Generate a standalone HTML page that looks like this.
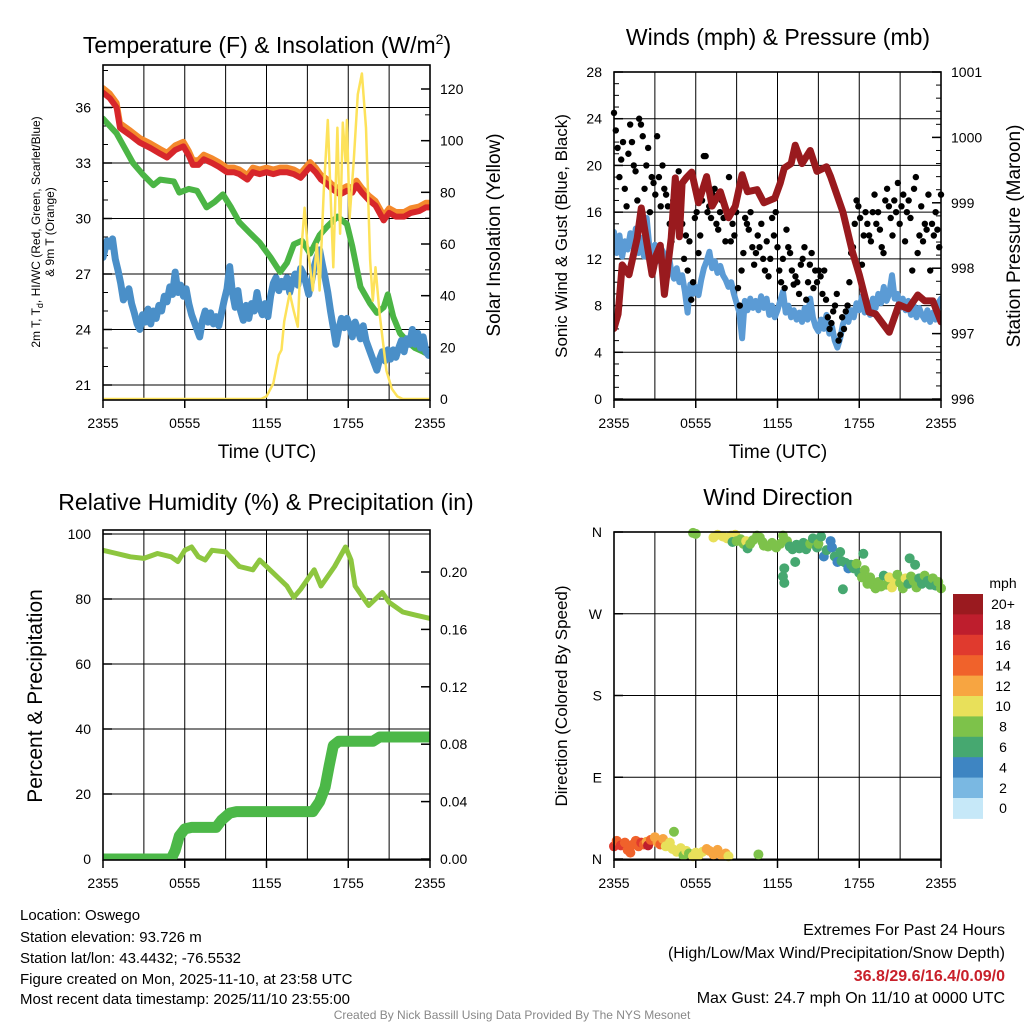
<!DOCTYPE html>
<html><head><meta charset="utf-8">
<style>
html,body{margin:0;padding:0;background:#fff;}
svg{display:block;font-family:"Liberation Sans",Arial,sans-serif;}
</style></head>
<body>
<svg id="chart" width="1024" height="1024" viewBox="0 0 1024 1024" xmlns="http://www.w3.org/2000/svg">
<rect width="1024" height="1024" fill="#fff"/>
<!-- titles -->
<text x="267" y="53" font-size="23" text-anchor="middle">Temperature (F) &amp; Insolation (W/m<tspan font-size="14" dy="-9">2</tspan><tspan dy="9">)</tspan></text>
<text x="778" y="45" font-size="23" text-anchor="middle">Winds (mph) &amp; Pressure (mb)</text>
<text x="266" y="510" font-size="23" text-anchor="middle">Relative Humidity (%) &amp; Precipitation (in)</text>
<text x="778" y="505" font-size="23" text-anchor="middle">Wind Direction</text>
<!-- axis titles -->
<text x="267" y="458" font-size="19" text-anchor="middle">Time (UTC)</text>
<text x="778" y="458" font-size="19" text-anchor="middle">Time (UTC)</text>
<text transform="translate(40,232) rotate(-90)" font-size="12" text-anchor="middle">2m T, T<tspan font-size="9" dy="3">d</tspan><tspan dy="-3">, HI/WC (Red, Green, Scarlet/Blue)</tspan></text>
<text transform="translate(54,232) rotate(-90)" font-size="12" text-anchor="middle">&amp; 9m T (Orange)</text>
<text transform="translate(500,235) rotate(-90)" font-size="19" text-anchor="middle">Solar Insolation (Yellow)</text>
<text transform="translate(567,236) rotate(-90)" font-size="17" text-anchor="middle">Sonic Wind &amp; Gust (Blue, Black)</text>
<text transform="translate(1020,236) rotate(-90)" font-size="19" text-anchor="middle">Station Pressure (Maroon)</text>
<text transform="translate(42,696) rotate(-90)" font-size="21" text-anchor="middle">Percent &amp; Precipitation</text>
<text transform="translate(567,696) rotate(-90)" font-size="17" text-anchor="middle">Direction (Colored By Speed)</text>
<!-- footer -->
<g font-size="15">
<text x="20" y="920">Location: Oswego</text>
<text x="20" y="942">Station elevation: 93.726 m</text>
<text x="20" y="963">Station lat/lon: 43.4432; -76.5532</text>
<text x="20" y="984">Figure created on Mon, 2025-11-10, at 23:58 UTC</text>
<text x="20" y="1004">Most recent data timestamp: 2025/11/10 23:55:00</text>
</g>
<g font-size="16" text-anchor="end">
<text x="1005" y="935">Extremes For Past 24 Hours</text>
<text x="1005" y="958">(High/Low/Max Wind/Precipitation/Snow Depth)</text>
<text x="1005" y="981" fill="#c8202a" font-weight="bold">36.8/29.6/16.4/0.09/0</text>
<text x="1005" y="1003">Max Gust: 24.7 mph On 11/10 at 0000 UTC</text>
</g>
<text x="512" y="1019" font-size="12" fill="#888" text-anchor="middle">Created By Nick Bassill Using Data Provided By The NYS Mesonet</text>
<g id="plots"></g>
</svg>
<script>
// ---------- data ----------
var timeTickLabels = ["2355","0555","1155","1755","2355"];
var tempTicks = [21,24,27,30,33,36];
var insolTicks = [0,20,40,60,80,100,120];
var windTicks = [0,4,8,12,16,20,24,28];
var presTicks = [996,997,998,999,1000,1001];
var rhTicks = [0,20,40,60,80,100];
var precipTicks = [0,0.04,0.08,0.12,0.16,0.20];
var precipTickLabels = ["0.00","0.04","0.08","0.12","0.16","0.20"];
var dirTicks = [0,90,180,270,360];
var dirTickLabels = ["N","E","S","W","N"];
var speedBins = [0,2,4,6,8,10,12,14,16,18,20];
var speedLabels = ["0","2","4","6","8","10","12","14","16","18","20+"];
var speedColors = ["#c6e8f8","#7ab8e2","#3e85c2","#46a870","#7dc24a","#e8e05a","#f7a541","#f0622b","#e03a2e","#be1e2d","#9a1a1f"];

var tempRed = [[0,36.8],[0.5,36.5],[1,36],[1.25,34.9],[2,34.5],[2.7,34.1],[3.5,33.8],[4.2,33.5],[4.7,33.3],[5.3,33.7],[5.9,33.9],[6.3,33.4],[6.6,32.9],[7.0,32.9],[7.4,33.2],[8.0,33.0],[8.5,32.8],[9.1,32.5],[9.6,32.5],[10.0,32.4],[10.6,32.1],[11.0,32.5],[11.5,32.4],[12.0,32.5],[12.5,32.4],[13.0,32.5],[13.5,32.5],[14.0,32.4],[14.5,32.2],[15.2,32.8],[15.6,32.5],[16.0,32.1],[16.4,31.9],[16.8,31.6],[17.4,31.3],[17.9,31.5],[18.3,31.4],[18.6,31.8],[19.0,31.4],[19.5,31.0],[20.0,30.7],[20.6,29.9],[21.0,30.3],[21.5,30.1],[22.1,30.1],[22.6,30.3],[23.2,30.4],[23.7,30.6],[24,30.6]];
var tempOrangeOffset = 0.25;
var tempGreen = [[0,35.4],[0.5,35.0],[1,34.6],[1.6,33.8],[2.2,33.0],[2.9,32.4],[3.7,31.8],[4.2,32.1],[5.2,32.0],[5.6,31.4],[6.3,31.6],[6.9,31.5],[7.6,30.6],[8.2,30.9],[8.8,31.3],[9.4,30.6],[10,29.8],[10.8,29.2],[11.5,28.7],[12.3,27.9],[13,27.1],[13.5,27.6],[14,28.6],[14.6,28.8],[15.2,28.1],[15.9,29.1],[16.5,29.6],[17.2,30.1],[17.9,29.7],[18.3,28.5],[18.9,26.3],[19.6,25.4],[20.1,24.9],[20.6,25.2],[20.9,25.9],[21.3,24.7],[21.8,23.8],[22.4,23.3],[22.9,23.0],[23.5,22.8],[24,22.6]];
var tempBlue = [[0,27.9],[0.3,28.8],[0.5,28.5],[0.7,28.9],[0.9,27.8],[1.1,27.2],[1.3,26.5],[1.5,25.6],[1.7,25.9],[1.9,26.2],[2.1,25.4],[2.3,24.9],[2.5,24.3],[2.7,24.0],[2.9,24.8],[3.1,24.4],[3.3,25.1],[3.5,24.3],[3.7,25.0],[3.9,24.6],[4.1,25.3],[4.3,25.0],[4.5,25.8],[4.7,25.5],[4.9,26.3],[5.1,25.9],[5.3,27.1],[5.5,26.0],[5.7,26.4],[5.9,25.8],[6.1,26.2],[6.3,25.4],[6.5,24.8],[6.7,24.4],[6.9,24.0],[7.1,23.6],[7.3,24.5],[7.5,25.0],[7.7,24.4],[7.9,24.9],[8.1,24.3],[8.3,24.7],[8.5,24.2],[8.7,24.9],[8.9,25.6],[9.1,26.2],[9.3,27.4],[9.5,26.0],[9.7,25.2],[9.9,26.1],[10.1,25.0],[10.3,24.5],[10.5,25.3],[10.7,24.6],[10.9,25.4],[11.1,25.0],[11.3,26.0],[11.5,25.2],[11.7,24.8],[11.9,25.4],[12.1,24.7],[12.3,25.8],[12.5,26.5],[12.7,26.8],[12.9,26.1],[13.1,26.6],[13.3,26.3],[13.5,26.8],[13.7,26.0],[13.9,26.6],[14.1,27.0],[14.3,26.4],[14.5,27.3],[14.7,27.0],[14.9,26.5],[15.1,25.9],[15.3,26.6],[15.5,27.4],[15.7,27.9],[15.9,28.3],[16.1,27.5],[16.3,26.8],[16.5,26.0],[16.7,25.0],[16.9,24.1],[17.1,23.2],[17.3,24.0],[17.5,24.6],[17.7,24.1],[17.9,24.6],[18.1,24.2],[18.3,23.6],[18.5,24.4],[18.7,24.0],[18.9,23.5],[19.1,24.2],[19.3,23.4],[19.5,23.0],[19.7,22.6],[19.9,22.2],[20.1,21.8],[20.3,22.4],[20.5,22.8],[20.7,22.3],[20.9,22.9],[21.1,22.4],[21.3,22.9],[21.5,22.5],[21.7,23.0],[21.9,23.4],[22.1,22.8],[22.3,23.5],[22.5,23.2],[22.7,24.0],[22.9,23.2],[23.1,23.8],[23.3,23.0],[23.5,23.6],[23.7,22.8],[23.9,22.6],[24,22.8]];
var insolation = [[0,0],[11.6,0],[12.0,1],[12.5,6],[12.9,17],[13.1,19],[13.3,30],[13.7,41],[14.0,34],[14.3,28],[14.5,54],[14.8,74],[15.0,60],[15.4,42],[15.7,60],[15.9,42],[16.2,80],[16.5,108],[16.9,51],[17.2,105],[17.4,64],[17.6,107],[17.8,92],[17.9,108],[18.1,70],[18.4,92],[18.7,118],[19.0,126],[19.3,105],[19.6,54],[19.8,38],[20.0,51],[20.3,33],[20.8,11],[21.2,4],[21.6,1],[22,0],[24,0]];

var windSpeed = [[0,14.3],[0.2,12.5],[0.4,14],[0.6,12.2],[0.8,13.5],[1.0,12.8],[1.2,14.2],[1.4,13],[1.6,14.6],[1.8,12.5],[2.0,13.8],[2.2,12.2],[2.4,15.5],[2.6,13],[2.8,12],[3.0,13.2],[3.2,11.8],[3.4,13],[3.6,12.6],[3.8,11.2],[4.0,12.4],[4.2,11],[4.4,10.3],[4.6,11.2],[4.8,10],[5.0,10.6],[5.2,9.2],[5.4,7.4],[5.6,9.8],[5.8,9],[6.0,9.6],[6.2,8.9],[6.4,10.2],[6.6,11.2],[6.8,11.8],[7.0,12.6],[7.2,11.2],[7.4,11.8],[7.6,10.8],[7.8,11.4],[8.0,10.6],[8.2,10.2],[8.4,9.6],[8.6,10],[8.8,9],[9.0,8.2],[9.2,7.4],[9.4,5.2],[9.6,8.4],[9.8,7.6],[10.0,8.6],[10.2,7.8],[10.4,8.4],[10.6,7.6],[10.8,8.8],[11.0,7.8],[11.2,8.6],[11.4,7.2],[11.6,8],[11.8,7],[12.0,7.6],[12.2,8.4],[12.4,9.2],[12.6,7.4],[12.8,8],[13.0,7],[13.2,7.6],[13.4,6.8],[13.6,7.4],[13.8,6.6],[14.0,7.8],[14.2,6.8],[14.4,8.6],[14.6,7],[14.8,6.2],[15.0,5.8],[15.2,6.8],[15.4,6],[15.6,7.2],[15.8,5.6],[16.0,6.2],[16.2,5],[16.4,4.4],[16.6,5.2],[16.8,6.4],[17.0,7],[17.2,6.6],[17.4,7.6],[17.6,7],[17.8,8.2],[18.0,7.6],[18.2,8.8],[18.4,7.4],[18.6,8],[18.8,7.2],[19.0,8.6],[19.2,7.8],[19.4,9],[19.6,8.2],[19.8,9.6],[20.0,8.4],[20.2,9],[20.4,10.6],[20.6,8.6],[20.8,9],[21.0,7.8],[21.2,8.6],[21.4,7.6],[21.6,8.4],[21.8,7.2],[22.0,8],[22.2,7],[22.4,7.8],[22.6,7.2],[22.8,6.8],[23.0,7.6],[23.2,6.6],[23.4,7.4],[23.6,6.8],[23.8,8.2],[24,8.6]];
var windGust = [24.5,23,21.5,19,20.5,22,18,16.5,21,23.5,22,20,19.5,17,24,23.5,22.5,18,20,21.5,16,19,18.5,17.5,
22.5,19,16.5,20,18,17.5,16.5,15,13.5,17,16,14.8,19.5,18,
15,12,14,11,13.5,8.5,10,15.5,16,12.5,14,17,20.8,20.8,16,
16.5,15.5,17.5,18,15,14.5,16,17,15.5,13.5,16,19,
13.5,15,14,16,9.5,8,11,12.5,15.5,15,14.5,16,13,11.5,12.5,
14,13,15,12,11,13.5,10.5,12,15.5,14,16,13,11,10,12,9.5,14.5,
13,12.5,11,9.8,10.5,10,9,11.5,12,13,8.5,10,11.5,12.5,9.5,11,
10,11,10.5,9,11,8.5,7,6,6.5,7.5,8,9,5,5.5,7,
6,7.5,8,10,12.5,13,15,17,16.5,15.5,11.5,14,16,
15,14,13.5,16,17.5,15,16,14.5,13,12.5,17,18,16.5,15.5,
14,17,16,18.5,15,16.5,17.5,13.5,16,17,15.5,11,18,19,
12.5,14,16.5,13.5,15,14.5,17.5,11,15,14,16,14.5,13,17.5];
var pressure = [[0,997.08],[0.3,997.3],[0.6,998.05],[1.1,997.9],[1.7,998.46],[2.0,998.92],[2.4,998.4],[2.8,997.9],[3.1,998.2],[3.4,998.35],[3.7,997.6],[4.2,998.46],[4.5,999.38],[4.8,998.48],[5.0,999.3],[5.3,999.38],[5.7,999.47],[6.2,999.0],[6.8,999.4],[7.2,998.95],[7.8,999.17],[8.4,998.77],[8.9,998.95],[9.4,999.43],[9.8,999.17],[10.5,999.2],[11.0,999.0],[11.8,999.07],[12.2,999.3],[12.5,999.53],[13.0,999.6],[13.3,999.88],[13.8,999.6],[14.4,999.8],[14.9,999.48],[15.6,999.55],[15.9,999.4],[16.8,998.86],[17.5,998.25],[18.0,997.9],[18.7,997.33],[19.2,997.3],[20.2,997.02],[20.9,997.44],[21.6,997.38],[22.3,997.59],[22.8,997.5],[23.4,997.5],[24,997.18]];

var rh = [[0,95],[1,94],[2,93],[3,92.5],[4,94],[5,93],[5.5,91.5],[6,95],[6.5,96],[7,93],[7.5,92],[8,95],[9,94.5],[10,90],[11,89],[11.5,92],[12,90],[13,86],[13.5,84],[14,80.5],[14.5,83],[15,86],[15.5,89],[16,84],[17,90],[17.8,96],[18.2,92],[18.5,84],[19,81],[19.5,78],[20,80],[20.5,82],[21,79],[22,76],[23,75],[24,74]];
var precip = [[0,0],[5.0,0],[5.3,0.006],[5.6,0.016],[6.0,0.021],[6.5,0.022],[8.3,0.022],[8.7,0.027],[9.3,0.032],[9.8,0.033],[15.4,0.033],[15.9,0.04],[16.3,0.05],[16.6,0.065],[16.9,0.079],[17.3,0.082],[19.8,0.082],[20.3,0.085],[24,0.085]];

var windDir = [[5.8,359,8],[6.0,358,8],[7.3,354,10],[7.6,357,10],[8.0,355,10],[8.3,353,10],[8.6,356,10],[8.9,357,9],[8.7,349,6],[9.0,350,8],[9.3,352,8],[9.5,347,8],[9.7,350,10],[9.8,342,6],[10.0,347,8],[10.2,351,8],[10.5,356,8],[10.7,354,8],[10.9,349,8],[11.0,345,8],[11.3,344,8],[11.6,348,7],[11.9,343,8],[12.2,347,8],[12.4,356,8],[12.7,350,8],[12.9,344,6],[13.1,341,6],[13.4,346,6],[13.6,342,6],[13.9,348,6],[14.1,341,6],[14.4,347,7],[14.6,353,6],[14.9,343,6],[15.0,347,8],[15.2,355,6],[15.4,333,4],[15.6,340,6],[15.9,350,4],[16.0,343,4],[16.2,333,6],[16.4,327,4],[16.6,338,6],[16.7,328,6],[17.0,326,6],[17.2,320,4],[17.4,324,6],[17.6,320,6],[17.8,325,8],[18.0,315,6],[18.2,310,8],[18.4,318,8],[18.6,303,8],[18.8,310,8],[19.0,302,8],[19.2,298,7],[19.4,305,8],[19.6,300,8],[19.8,312,6],[20.0,302,8],[20.2,310,10],[20.4,299,10],[20.6,304,10],[20.8,313,8],[21.0,304,8],[21.2,298,8],[21.4,309,10],[21.6,303,6],[21.8,311,8],[22.0,306,8],[22.2,299,8],[22.4,309,6],[22.6,303,6],[22.8,312,8],[23.0,306,6],[23.2,302,6],[23.4,309,8],[23.6,301,6],[23.8,305,8],[24.0,298,8],
[12.5,320,6],[12.4,311,6],[12.5,304,6],[13.3,327,6],[18.3,336,6],[21.7,331,6],[22.1,324,6],[16.8,297,6],
[0.0,14,16],[0.2,20,14],[0.5,15,16],[0.8,18,14],[1.0,10,14],[1.2,7,14],[1.4,16,14],[1.6,20,14],[1.8,14,14],[2.0,18,16],[2.2,16,14],[2.4,19,12],[2.5,15,18],[2.7,21,14],[3.0,24,12],[3.2,18,12],[3.4,16,14],[3.6,22,12],[3.8,14,10],[4.1,18,10],[4.4,30,8],[4.3,11,10],[4.6,8,10],[4.9,12,10],[5.1,4,8],[5.3,9,10],[5.5,6,8],[5.8,3,10],[6.0,7,10],[6.2,4,10],[6.5,8,10],[6.8,11,12],[7.0,9,12],[7.3,5,12],[7.6,10,12],[7.9,4,12],[8.2,6,12],[8.4,3,10],[10.6,5,8]];

// ---------- helpers ----------
var NS = "http://www.w3.org/2000/svg";
var root = document.getElementById("plots");
function el(tag, attrs, parent){
  var e = document.createElementNS(NS, tag);
  for (var k in attrs) e.setAttribute(k, attrs[k]);
  (parent||root).appendChild(e);
  return e;
}
function lin(d0,d1,r0,r1){ return function(v){ return r0 + (v-d0)/(d1-d0)*(r1-r0); }; }

function panel(name, x0, x1, y0, y1){
  var g = el("g", {});
  
  
  var cp = el("clipPath", {id: "clip-"+name}, g);
  el("rect", {x:x0, y:y0, width:x1-x0, height:y1-y0}, cp);
  return {g:g, x0:x0, x1:x1, y0:y0, y1:y1, x: lin(0,24,x0,x1), clip:"url(#clip-"+name+")"};
}
function vgrid(p){
  for (var i=1;i<8;i++){
    var xx = p.x(i*3);
    var ln = el("line",{x1:xx,x2:xx,y1:p.y0,y2:p.y1,stroke:"#000","stroke-width":1}, p.g);
    
    
  }
  for (var j=0;j<timeTickLabels.length;j++){
    var xt = p.x(j*6);
    var tk = el("line",{x1:xt,x2:xt,y1:p.y1,y2:p.y1+8,stroke:"#000","stroke-width":1.5}, p.g);
    
    
    var t = el("text",{x:xt,y:p.y1+28,"font-size":14,"text-anchor":"middle"}, p.g);
    
    
    t.textContent = timeTickLabels[j];
  }
}
function hgrid(p, ticks, sy, labels, side, grid, minorStep){
  for (var i=0;i<ticks.length;i++){
    var yy = sy(ticks[i]);
    if (grid){
      var ln = el("line",{x1:p.x0,x2:p.x1,y1:yy,y2:yy,stroke:"#000","stroke-width":1}, p.g);
      
      
    }
    var xe = side=="left"? p.x0 : p.x1;
    var tk = el("line",{x1:xe,x2:side=="left"?xe+9:xe-9,y1:yy,y2:yy,stroke:"#000","stroke-width":1.5}, p.g);
    
    
    var t = el("text",{x:side=="left"?p.x0-12:p.x1+10,y:yy+5,"font-size":14,"text-anchor":side=="left"?"end":"start"}, p.g);
    
    
    t.textContent = labels ? labels[i] : String(ticks[i]);
  }
  if (minorStep){
    var lo = ticks[0], hi = ticks[ticks.length-1]+ (ticks[1]-ticks[0]);
    for (var v=lo; v<=hi+1e-9; v+=minorStep){
      var ym = sy(v);
      if (ym < p.y0-0.5 || ym > p.y1+0.5) continue;
      var xe2 = side=="left"? p.x0 : p.x1;
      var mk = el("line",{x1:xe2,x2:side=="left"?xe2+5:xe2-5,y1:ym,y2:ym,stroke:"#000","stroke-width":1}, p.g);
      
      
    }
  }
}
function frame(p){
  var r = el("rect",{x:p.x0,y:p.y0,width:p.x1-p.x0,height:p.y1-p.y0,fill:"none",stroke:"#000","stroke-width":1.6}, p.g);
  
  
}
function line(p, data, sy, color, w, name, off){
  var d = "";
  for (var i=0;i<data.length;i++){
    d += (i?"L":"M") + p.x(data[i][0]).toFixed(1) + "," + sy(data[i][1]+(off||0)).toFixed(1);
  }
  var pa = el("path",{d:d,fill:"none",stroke:color,"stroke-width":w,"stroke-linejoin":"round","stroke-linecap":"round","clip-path":p.clip}, p.g);
  
  
}

// ---------- panel 1: temperature ----------
var p1 = panel("temperature-panel", 103, 430, 65, 400);
var yT = lin(21, 36, 385, 107.5);
var yI = lin(0, 120, 399, 89);
vgrid(p1);
hgrid(p1, tempTicks, yT, null, "left", true, 1);
hgrid(p1, insolTicks, yI, null, "right", false, 10);
line(p1, tempRed, yT, "#f4892c", 6, "temperature-9m-line", tempOrangeOffset);
line(p1, tempRed, yT, "#d7262b", 6, "temperature-2m-line");
line(p1, tempGreen, yT, "#4bb545", 6, "dewpoint-line");
line(p1, tempBlue, yT, "#4a8fc8", 7, "wind-chill-line");
line(p1, insolation, yI, "#fde25a", 2.5, "insolation-line");
frame(p1);

// ---------- panel 2: wind ----------
var p2 = panel("wind-panel", 614, 941, 72, 400);
var yW = lin(0, 28, 399, 72);
var yP = lin(996, 1001, 399, 72);
vgrid(p2);
hgrid(p2, windTicks, yW, null, "left", true, 1);
hgrid(p2, presTicks, yP, null, "right", false, 0.2);
line(p2, windSpeed, yW, "#5b9bd5", 6, "sonic-wind-line");
for (var gi=0; gi<windGust.length; gi++){
  var hh = gi/(windGust.length-1)*24;
  var c = el("circle",{cx:p2.x(hh),cy:yW(windGust[gi]),r:3.2,fill:"#000"}, p2.g);
  
  
}
line(p2, pressure, yP, "#991a1e", 7, "pressure-line");
frame(p2);

// ---------- panel 3: humidity ----------
var p3 = panel("humidity-panel", 103, 430, 530, 860);
var yR = lin(0, 100, 859, 534);
var yPr = lin(0, 0.04, 859, 801.6);
vgrid(p3);
hgrid(p3, rhTicks, yR, null, "left", true, 0);
hgrid(p3, precipTicks, yPr, precipTickLabels, "right", false, 0);
line(p3, rh, yR, "#8dc63f", 5, "humidity-line");
line(p3, precip, yPr, "#4cb848", 11, "precipitation-line");
frame(p3);

// ---------- panel 4: wind direction ----------
var p4 = panel("wind-direction-panel", 614, 941, 532, 860);
var yD = lin(0, 360, 859, 532);
vgrid(p4);
hgrid(p4, dirTicks, yD, dirTickLabels, "left", true, 0);
function speedColor(s){
  var idx = 0;
  for (var i=0;i<speedBins.length;i++) if (s >= speedBins[i]-1) idx = i;
  return speedColors[idx];
}
for (var di=0; di<windDir.length; di++){
  var cc = el("circle",{cx:p4.x(windDir[di][0]),cy:yD(windDir[di][1]),r:5,fill:speedColor(windDir[di][2])}, p4.g);
  
  
}
frame(p4);

// ---------- colorbar ----------
var cb = el("g", {});


var cbt = el("text",{x:1003,y:588,"font-size":14,"text-anchor":"middle"}, cb);


cbt.textContent = "mph";
var boxH = 20.4;
for (var ci=0; ci<speedColors.length; ci++){
  var k = speedColors.length-1-ci;
  var by = 594 + ci*boxH;
  var bx = el("rect",{x:953,y:by,width:30,height:boxH+0.5,fill:speedColors[k]}, cb);
  
  
  var bl = el("text",{x:1003,y:by+boxH/2+5,"font-size":14,"text-anchor":"middle"}, cb);
  
  
  bl.textContent = speedLabels[k];
}
</script>
</body></html>
